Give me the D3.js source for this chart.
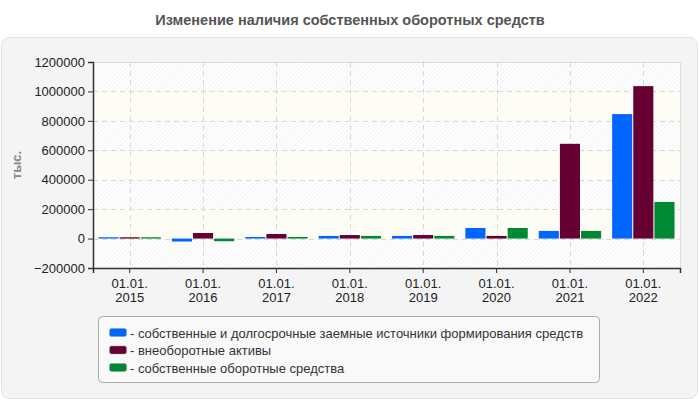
<!DOCTYPE html>
<html>
<head>
<meta charset="utf-8">
<script src="https://cdn.jsdelivr.net/npm/d3@7"></script>
<style>
  body { margin: 0; background: #fff; }
  text { font-family: "Liberation Sans", Arial, sans-serif; }
</style>
</head>
<body>
<div id="chart"></div>
<script>
// data
var years = ["2015", "2016", "2017", "2018", "2019", "2020", "2021", "2022"];
var ownAndLongTerm = [9000, -20000, 11000, 18000, 18000, 72000, 52000, 846000];
var nonCurrent = [9000, 38000, 31000, 24000, 24000, 18000, 644000, 1036000];
var ownCurrent = [9000, -18000, 11000, 18000, 18000, 72000, 52000, 249000];
var yTicks = [-200000, 0, 200000, 400000, 600000, 800000, 1000000, 1200000];

var seriesNames = [
  "собственные и долгосрочные заемные источники формирования средств",
  "внеоборотные активы",
  "собственные оборотные средства"
];
var colors = ["#0066ff", "#660033", "#008833"];
var series = [ownAndLongTerm, nonCurrent, ownCurrent];

var W = 700, H = 400;
var margin = {top: 62, right: 20, bottom: 132, left: 93};
var width = 680 - margin.left,
    height = 268 - margin.top;

var svg = d3.select("#chart").append("svg")
  .attr("width", W)
  .attr("height", H);

// hatch pattern for alternate bands
var defs = svg.append("defs");
var pat = defs.append("pattern")
  .attr("id", "hatch")
  .attr("patternUnits", "userSpaceOnUse")
  .attr("width", 3).attr("height", 3)
  .attr("patternTransform", "rotate(45)");
pat.append("rect").attr("width", 3).attr("height", 3).attr("fill", "#ffffff");
pat.append("line").attr("x1", 0).attr("y1", 0).attr("x2", 0).attr("y2", 3)
  .attr("stroke", "#efefef").attr("stroke-width", 1.5);

// title
svg.append("text")
  .attr("x", 350).attr("y", 25)
  .attr("text-anchor", "middle")
  .style("font-size", "14.5px")
  .style("font-weight", "bold")
  .style("fill", "#555")
  .text("Изменение наличия собственных оборотных средств");

// outer panel
svg.append("rect")
  .attr("x", 1.5).attr("y", 37.5)
  .attr("width", 696).attr("height", 361)
  .attr("rx", 8)
  .attr("fill", "#f4f4f4")
  .attr("stroke", "#e2e2e2");

var g = svg.append("g")
  .attr("transform", "translate(" + margin.left + "," + margin.top + ")");

var x = d3.scaleBand().domain(years).range([0, width]).paddingInner(0.15).paddingOuter(0.075);
var xc = d3.scaleBand().domain(years).range([0, width]);
var y = d3.scaleLinear().domain([-200000, 1200000]).range([height, 0]);
var xs = d3.scaleBand().domain([0, 1, 2]).range([0, x.bandwidth()]).paddingInner(0.05);

// background bands
for (var i = 0; i < yTicks.length - 1; i++) {
  g.append("rect")
    .attr("x", 0)
    .attr("y", y(yTicks[i + 1]))
    .attr("width", width)
    .attr("height", y(yTicks[i]) - y(yTicks[i + 1]))
    .attr("fill", i % 2 === 0 ? "url(#hatch)" : "#fdfdf6");
}

// grid
g.selectAll(".hgrid").data(yTicks.slice(1, -1)).enter().append("line")
  .attr("x1", 0).attr("x2", width)
  .attr("y1", function(d) { return Math.round(y(d)) + 0.5; })
  .attr("y2", function(d) { return Math.round(y(d)) + 0.5; })
  .attr("stroke", "#d8d8d8").attr("stroke-dasharray", "5,4");
g.selectAll(".vgrid").data(years).enter().append("line")
  .attr("y1", 0).attr("y2", height)
  .attr("x1", function(d) { return Math.round(xc(d) + xc.bandwidth() / 2) + 0.5; })
  .attr("x2", function(d) { return Math.round(xc(d) + xc.bandwidth() / 2) + 0.5; })
  .attr("stroke", "#d8d8d8").attr("stroke-dasharray", "5,4");

// top / right border
g.append("path")
  .attr("d", "M0.5,0.5H" + (width + 0.5) + "V" + height)
  .attr("fill", "none").attr("stroke", "#dcdcdc");

// bars
series.forEach(function(vals, si) {
  g.append("g").selectAll("rect").data(vals).enter().append("rect")
    .attr("x", function(d, j) { return x(years[j]) + xs(si); })
    .attr("width", xs.bandwidth())
    .attr("y", function(d) { return y(Math.max(0, d)); })
    .attr("height", function(d) { return Math.max(1, Math.abs(y(d) - y(0))); })
    .attr("fill", colors[si]);
});

// axes
var yAxis = g.append("g")
  .call(d3.axisLeft(y).tickValues(yTicks).tickFormat(d3.format("d")).tickSize(5).tickPadding(3));
var xAxis = g.append("g")
  .attr("transform", "translate(0," + height + ")")
  .call(d3.axisBottom(xc).tickSize(5).tickFormat(function() { return ""; }));
[yAxis, xAxis].forEach(function(a) {
  a.select(".domain").attr("stroke", "#333").attr("stroke-width", 1.5);
  a.selectAll(".tick line").attr("stroke", "#333");
  a.selectAll("text").style("font-size", "13px").style("fill", "#222")
    .style("font-family", "'Liberation Sans', Arial, sans-serif");
});

// two-line x labels
xAxis.selectAll(".tick").each(function(d) {
  var t = d3.select(this).append("text")
    .attr("text-anchor", "middle")
    .style("font-size", "13px").style("fill", "#222")
    .style("font-family", "'Liberation Sans', Arial, sans-serif");
  t.append("tspan").attr("x", 0).attr("y", 19.5).text("01.01.");
  t.append("tspan").attr("x", 0).attr("y", 33.5).text(d);
});

// y label
svg.append("text")
  .attr("transform", "translate(21,165) rotate(-90)")
  .attr("text-anchor", "middle")
  .style("font-size", "13px")
  .style("font-weight", "bold")
  .style("fill", "#888")
  .text("тыс.");

// legend
var lg = svg.append("g");
lg.append("rect")
  .attr("x", 98.5).attr("y", 316.5)
  .attr("width", 501).attr("height", 66)
  .attr("rx", 4)
  .attr("fill", "#f9f9f9")
  .attr("stroke", "#aaa");
seriesNames.forEach(function(name, i) {
  var yy = 333 + i * 17.5;
  lg.append("rect")
    .attr("x", 109.5).attr("y", yy - 4.5)
    .attr("width", 17).attr("height", 8)
    .attr("rx", 2)
    .attr("fill", colors[i])
    .attr("stroke", "#999").attr("stroke-width", 0.5);
  lg.append("text")
    .attr("x", 130).attr("y", yy + 4.5)
    .style("font-size", "13px")
    .style("fill", "#333")
    .text("- " + name);
});
</script>
</body>
</html>
